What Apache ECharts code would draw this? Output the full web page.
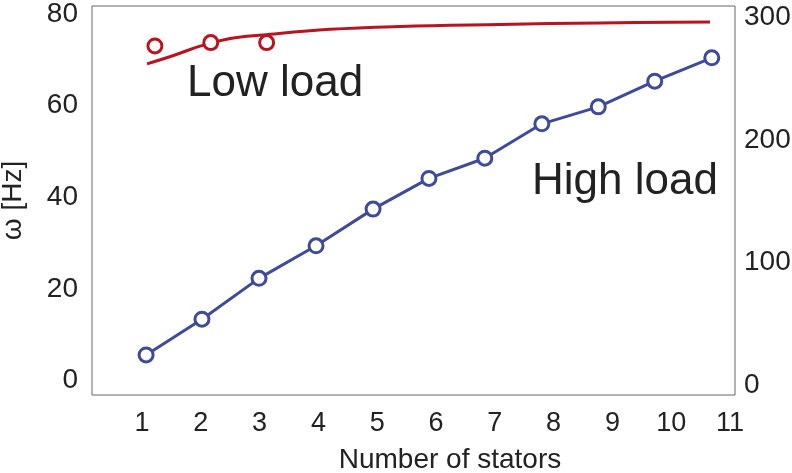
<!DOCTYPE html>
<html>
<head>
<meta charset="utf-8">
<script src="https://cdn.jsdelivr.net/npm/echarts@6/dist/echarts.min.js"></script>
<style>
html,body{margin:0;padding:0;background:#fff;}
#chart{width:792px;height:473px;}
</style>
</head>
<body>
<div id="chart"></div>
<script>
// Tick labels
const xTicks = [1, 2, 3, 4, 5, 6, 7, 8, 9, 10, 11];
const leftTicks = [0, 20, 40, 60, 80];
const rightTicks = [0, 100, 200, 300];

// High load (left axis, ω [Hz])
const highLoadX = [1.07, 2.02, 2.99, 3.96, 4.93, 5.88, 6.83, 7.80, 8.76, 9.72, 10.69];
const highLoadY = [5.6, 13.4, 22.3, 29.4, 37.4, 44.1, 48.5, 56.0, 59.7, 65.3, 70.4];

// Low load measured points (right axis)
const lowLoadX = [1.22, 2.17, 3.12];
const lowLoadY = [276.7, 279.4, 279.4];

// Low load fitted curve (right axis)
const lowFitX = [1.085, 1.56, 2.0, 2.5, 3.06, 4.2, 5.39, 7.09, 8.79, 10.66];
const lowFitY = [262.0, 269.3, 276.7, 282.8, 285.7, 290.3, 292.6, 294.2, 295.5, 296.3];

const RED = '#b8141f';
const BLUE = '#3f4a98';
const TXT = '#222';
const FONT = '"Liberation Sans", Arial, Helvetica, sans-serif';

const zip = (xs, ys) => xs.map((x, i) => [x, ys[i]]);

const chart = echarts.init(document.getElementById('chart'), null, {renderer: 'canvas'});
chart.setOption({
  animation: false,
  backgroundColor: '#fff',
  grid: {left: 92, right: 57, top: 6, bottom: 78, show: true, borderColor: '#666', borderWidth: 1,
         backgroundColor: 'transparent', containLabel: false, outerBoundsMode: 'none'},
  xAxis: {
    type: 'value', min: 0.15, max: 11.085,
    name: 'Number of stators', nameLocation: 'middle', nameGap: 51,
    nameTextStyle: {fontSize: 28, color: TXT, fontFamily: FONT, padding: [0, 0, 0, 73]},
    axisLine: {show: false}, axisTick: {show: false}, splitLine: {show: false},
    axisLabel: {customValues: xTicks, fontSize: 27, color: TXT, fontFamily: FONT, margin: 15}
  },
  yAxis: [
    {
      type: 'value', min: -3.14, max: 81.7, position: 'left',
      name: 'ω [Hz]', nameLocation: 'middle', nameGap: 65,
      nameTextStyle: {fontSize: 28, color: TXT, fontFamily: FONT},
      axisLine: {show: false}, axisTick: {show: false}, splitLine: {show: false},
      axisLabel: {customValues: leftTicks, fontSize: 28, color: TXT, fontFamily: FONT, margin: 14}
    },
    {
      type: 'value', min: -8.33, max: 309.3, position: 'right',
      axisLine: {show: false}, axisTick: {show: false}, splitLine: {show: false},
      axisLabel: {customValues: rightTicks, fontSize: 28, color: TXT, fontFamily: FONT, margin: 9}
    }
  ],
  graphic: [
    {type: 'text', left: 187, top: 62, style: {text: 'Low load', font: '44px ' + FONT, fill: TXT}},
    {type: 'text', left: 532, top: 160, style: {text: 'High load', font: '44px ' + FONT, fill: TXT}}
  ],
  series: [
    {
      type: 'line', yAxisIndex: 1, data: zip(lowFitX, lowFitY), smooth: 0.4,
      showSymbol: false, lineStyle: {color: RED, width: 3}, z: 2
    },
    {
      type: 'scatter', yAxisIndex: 1, data: zip(lowLoadX, lowLoadY),
      symbol: 'circle', symbolSize: 14,
      itemStyle: {color: '#fff', borderColor: RED, borderWidth: 3, opacity: 1}, z: 3
    },
    {
      type: 'line', yAxisIndex: 0, data: zip(highLoadX, highLoadY),
      symbol: 'circle', symbolSize: 14, showSymbol: true,
      lineStyle: {color: BLUE, width: 3},
      itemStyle: {color: '#fff', borderColor: BLUE, borderWidth: 3}, z: 3
    }
  ]
});
</script>
</body>
</html>
